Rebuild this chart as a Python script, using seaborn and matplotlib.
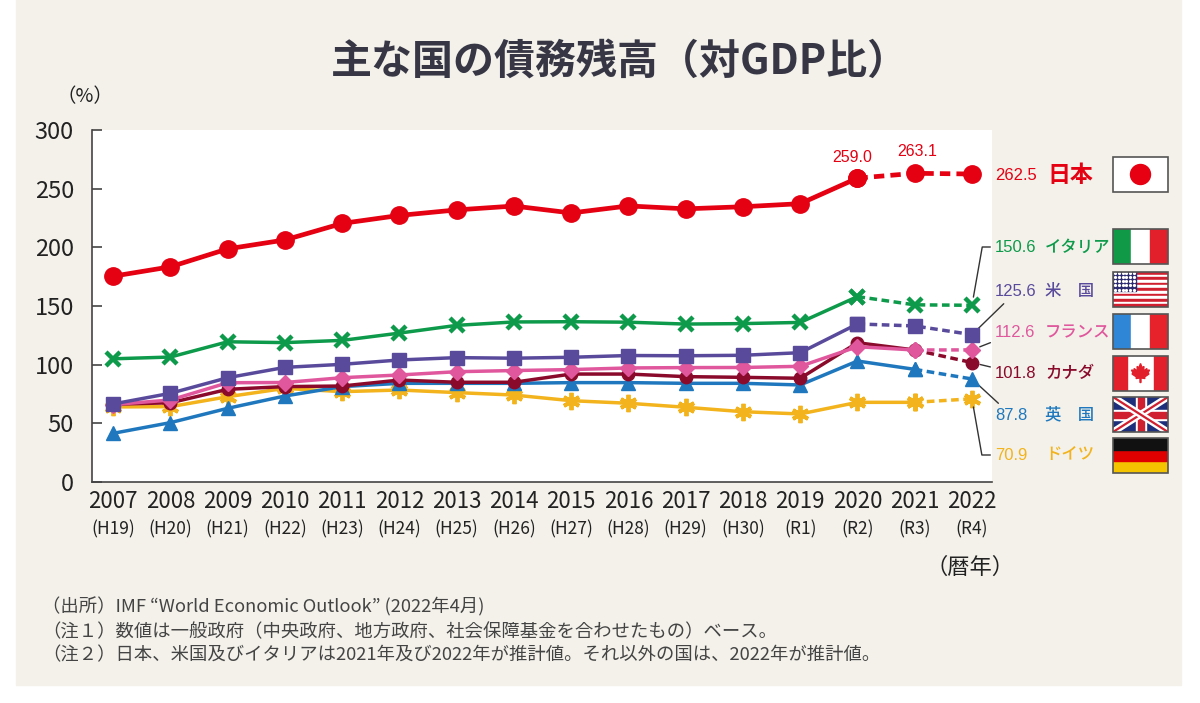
import numpy as np
import pandas as pd
import matplotlib
matplotlib.use("Agg")
import matplotlib.pyplot as plt
from matplotlib.patches import Rectangle, Circle, Polygon
import seaborn as sns

# ── data (IMF WEO Apr 2022, general government gross debt, % of GDP) ─────────
YEARS = list(range(2007, 2023))
ERA = ["H19", "H20", "H21", "H22", "H23", "H24", "H25", "H26", "H27",
       "H28", "H29", "H30", "R1", "R2", "R3", "R4"]

japan   = [175.4, 183.4, 198.7, 206.3, 220.4, 227.2, 231.9, 235.2, 229.3,
           235.3, 232.8, 234.6, 237.2, 259.0, 263.1, 262.5]
italy   = [105.0, 106.5, 119.5, 118.8, 120.7, 126.9, 133.5, 136.4, 136.6,
           136.2, 134.6, 135.0, 136.0, 158.0, 151.0, 150.6]
usa     = [66.5, 75.6, 88.9, 97.7, 100.3, 104.0, 106.0, 105.5, 106.3,
           107.8, 107.6, 108.0, 110.2, 134.7, 133.0, 125.6]
france  = [66.0, 69.9, 84.6, 84.8, 88.9, 91.2, 94.0, 95.0, 95.8,
           97.2, 97.5, 97.6, 98.6, 115.3, 112.5, 112.6]
canada  = [66.3, 67.5, 79.0, 81.3, 81.8, 86.9, 85.0, 85.0, 92.0,
           92.0, 89.8, 89.2, 88.4, 118.7, 112.5, 101.8]
uk      = [41.5, 50.6, 62.8, 73.3, 81.3, 84.1, 84.1, 84.1, 84.7,
           84.7, 84.1, 84.1, 82.7, 103.1, 96.0, 87.8]
germany = [64.0, 64.2, 72.7, 79.8, 77.0, 78.4, 76.2, 74.1, 69.3,
           67.1, 63.7, 59.9, 58.0, 67.9, 67.9, 70.9]

NAMES = ["日本", "イタリア", "米　国", "フランス", "カナダ", "英　国", "ドイツ"]

W, H = 1200, 703
BEIGE = "#f3f1ea"
INK = "#222222"

sns.set_theme(style="white")
plt.rcParams["font.family"] = ["Noto Sans CJK JP", "DejaVu Sans"]


def fx(x):
    return x / W


def fy(y):
    return 1 - y / H


fig = plt.figure(figsize=(W / 100, H / 100), dpi=100)
fig.patch.set_facecolor("white")
fig.add_artist(Rectangle((fx(16), fy(685)), fx(1181 - 16), 685 / H,
                         transform=fig.transFigure, color=BEIGE, zorder=0))

ax = fig.add_axes([fx(92), fy(482), fx(900), 352 / H])
ax.set_facecolor("white")

# (values, color, marker, markersize, mew, lw, first estimated year, zorder)
styles = [
    (germany, "#f2b31c", (6, 2, 0), 12.5, 2.8, 2.5, 2021, 3),
    (uk,      "#1f78bd", "^",        10,  1,  2.5, 2021, 4),
    (canada,  "#8a0a2c", "o",        9,   1,  2.5, 2021, 5),
    (france,  "#e0579d", "D",        8,   1,  2.5, 2021, 6),
    (usa,     "#5a4a9c", "s",        10,  1,  2.5, 2020, 7),
    (italy,   "#0d9a4a", "x",        10,  3.2, 2.5, 2020, 8),
    (japan,   "#e50012", "o",        12.5, 1, 3.4, 2020, 9),
]

for values, color, marker, ms, mew, lw, est, z in styles:
    df = pd.DataFrame({"year": YEARS, "value": values})
    kw = dict(x="year", y="value", ax=ax, color=color, lw=lw, marker=marker,
              ms=ms, mew=mew, mec=color, mfc=color, legend=False, zorder=z)
    sns.lineplot(data=df[df.year <= est], **kw)
    sns.lineplot(data=df[df.year >= est], linestyle=(0, (2.2, 1.3)), **kw)

ax.set_xlim(2006.63, 2022.35)
ax.set_ylim(0, 300)
ax.set_yticks(range(0, 301, 50))
ax.set_xticks(YEARS)
ax.set_xticklabels([str(y) for y in YEARS])
ax.set_xlabel("")
ax.set_ylabel("")
ax.tick_params(axis="y", direction="in", length=7, width=1.2, color="#444",
               labelsize=17, labelcolor=INK, pad=13, left=True)
ax.tick_params(axis="x", length=0, labelsize=16, labelcolor=INK, pad=6)
for s in ["top", "right"]:
    ax.spines[s].set_visible(False)
for s in ["left", "bottom"]:
    ax.spines[s].set_color("#444")
    ax.spines[s].set_linewidth(1.2)

for yr, era in zip(YEARS, ERA):
    ax.text(yr, -0.136, f"({era})", transform=ax.get_xaxis_transform(),
            ha="center", va="center", fontsize=12.5, color=INK)

# Japan point labels
ax.annotate("259.0", (2020, japan[13]), xytext=(-4, 15), textcoords="offset points",
            ha="center", va="center", fontsize=11.5, color="#e50012",
            family=["Liberation Sans"])
ax.annotate("263.1", (2021, japan[14]), xytext=(2, 16), textcoords="offset points",
            ha="center", va="center", fontsize=11.5, color="#e50012",
            family=["Liberation Sans"])

# right-hand labels: (value, name, color, label y px, connection)
right = [
    (japan[-1],   NAMES[0], "#e50012", 176, None),
    (italy[-1],   NAMES[1], "#0d9a4a", 247, "angle,angleA=0,angleB=80,rad=0"),
    (usa[-1],     NAMES[2], "#5a4a9c", 292, "arc3"),
    (france[-1],  NAMES[3], "#e0579d", 333, "arc3"),
    (canada[-1],  NAMES[4], "#8a0a2c", 373, "arc3"),
    (uk[-1],      NAMES[5], "#1f78bd", 415, "arc3"),
    (germany[-1], NAMES[6], "#f2b31c", 455, "angle,angleA=0,angleB=-80,rad=0"),
]
for val, name, color, ypx, conn in right:
    if conn is None:
        fig.text(fx(995), fy(ypx), f"{val:.1f}", ha="left", va="center",
                 fontsize=12, color=color, family=["Liberation Sans"])
        fig.text(fx(1047), fy(ypx - 1), name, ha="left", va="center",
                 fontsize=16.5, color=color, fontweight="bold")
        continue
    ax.annotate(f"{val:.1f}", (2022, val), xytext=(fx(995), fy(ypx)),
                textcoords="figure fraction", ha="left", va="center",
                fontsize=12, color=color, family=["Liberation Sans"],
                annotation_clip=False,
                arrowprops=dict(arrowstyle="-", color="#333", lw=1,
                                shrinkA=1, shrinkB=6, connectionstyle=conn))
    fig.text(fx(1045), fy(ypx), name, ha="left", va="center",
             fontsize=11.8, color=color, fontweight="medium")


# ── flags ─────────────────────────────────────────────────────────────────────
def flag_ax(top):
    fa = fig.add_axes([fx(1113), fy(top + 35), fx(55), 35 / H])
    fa.set_xlim(0, 55)
    fa.set_ylim(0, 35)
    fa.axis("off")
    return fa


def border(fa):
    fa.add_patch(Rectangle((0, 0), 55, 35, fill=False, ec="#555", lw=1.2,
                           clip_on=False, zorder=10))


fa = flag_ax(157)
fa.add_patch(Rectangle((0, 0), 55, 35, color="white"))
fa.add_patch(Circle((27.5, 17.5), 10, color="#e60012"))
border(fa)

fa = flag_ax(229)
for i, c in enumerate(["#109a47", "white", "#e2202c"]):
    fa.add_patch(Rectangle((i * 55 / 3, 0), 55 / 3, 35, color=c))
border(fa)

fa = flag_ax(272)
for i in range(13):
    fa.add_patch(Rectangle((0, 35 - (i + 1) * 35 / 13), 55, 35 / 13,
                           color="#d0202f" if i % 2 == 0 else "white"))
fa.add_patch(Rectangle((0, 35 - 7 * 35 / 13), 23, 7 * 35 / 13, color="#2c2b72"))
sx, sy = np.meshgrid(np.linspace(2, 21, 6), np.linspace(17.5, 33.5, 5))
fa.plot(sx.ravel(), sy.ravel(), ls="none", marker="o", ms=1.3, color="white")
border(fa)

fa = flag_ax(314)
for i, c in enumerate(["#2f86d6", "white", "#e8222b"]):
    fa.add_patch(Rectangle((i * 55 / 3, 0), 55 / 3, 35, color=c))
border(fa)

fa = flag_ax(356)
fa.add_patch(Rectangle((0, 0), 55, 35, color="white"))
fa.add_patch(Rectangle((0, 0), 13.75, 35, color="#e2202c"))
fa.add_patch(Rectangle((41.25, 0), 13.75, 35, color="#e2202c"))
leaf = np.array([(0, 1), (0.15, 0.6), (0.35, 0.7), (0.3, 0.25), (0.65, 0.5),
                 (0.6, 0.3), (0.9, 0.35), (0.75, 0.05), (0.85, -0.05),
                 (0.4, -0.35), (0.45, -0.5), (0.05, -0.45), (0.05, -0.9),
                 (-0.05, -0.9), (-0.05, -0.45), (-0.45, -0.5), (-0.4, -0.35),
                 (-0.85, -0.05), (-0.75, 0.05), (-0.9, 0.35), (-0.6, 0.3),
                 (-0.65, 0.5), (-0.3, 0.25), (-0.35, 0.7), (-0.15, 0.6)])
fa.add_patch(Polygon(leaf * 10 + [27.5, 17.5], color="#e2202c"))
border(fa)

fa = flag_ax(397)
fa.add_patch(Rectangle((0, 0), 55, 35, color="#1d2f7a"))
for ys in [(0, 35), (35, 0)]:
    fa.plot([0, 55], ys, color="white", lw=5, solid_capstyle="butt")
    fa.plot([0, 55], ys, color="#d0202f", lw=1.6, solid_capstyle="butt")
fa.add_patch(Rectangle((0, 12.5), 55, 10, color="white"))
fa.add_patch(Rectangle((22.5, 0), 10, 35, color="white"))
fa.add_patch(Rectangle((0, 14.5), 55, 6, color="#d0202f"))
fa.add_patch(Rectangle((24.5, 0), 6, 35, color="#d0202f"))
border(fa)

fa = flag_ax(438)
for i, c in enumerate(["#f5c400", "#e00000", "#111111"]):
    fa.add_patch(Rectangle((0, i * 35 / 3), 55, 35 / 3, color=c))
border(fa)

# ── titles and notes ──────────────────────────────────────────────────────────
fig.text(fx(620), fy(62), "主な国の債務残高（対GDP比）", ha="center", va="center",
         fontsize=29.5, fontweight="bold", color="#363645")
fig.text(fx(85), fy(97), "（%）", ha="center", va="center", fontsize=14, color=INK)
fig.text(fx(970), fy(567), "（暦年）", ha="center", va="center", fontsize=16, color=INK)

notes = [
    "（出所）IMF “World Economic Outlook” (2022年4月)",
    "（注１）数値は一般政府（中央政府、地方政府、社会保障基金を合わせたもの）ベース。",
    "（注２）日本、米国及びイタリアは2021年及び2022年が推計値。それ以外の国は、2022年が推計値。",
]
for txt, ypx in zip(notes, [607, 632, 655]):
    fig.text(fx(42), fy(ypx), txt, ha="left", va="center", fontsize=13.2, color="#444")

fig.savefig("out.png", dpi=100)
